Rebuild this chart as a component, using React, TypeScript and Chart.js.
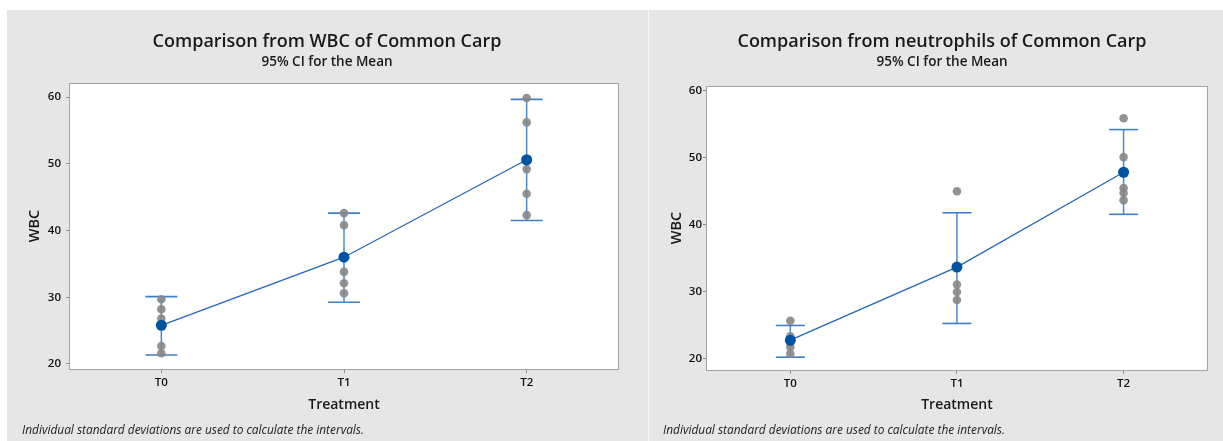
import React, { useEffect, useRef } from 'react';
import { Chart, registerables } from 'chart.js';

Chart.register(...registerables);

// ---------- data ----------
const categories = ['T0', 'T1', 'T2'];
const yTicks = [20, 30, 40, 50, 60];

// Left panel: WBC
const wbcTitle = 'Comparison from WBC of Common Carp';
const wbcMeans = [25.8, 36.0, 50.6];
const wbcLower = [21.35, 29.25, 41.5];
const wbcUpper = [30.1, 42.6, 59.65];
const wbcT0 = [29.7, 28.2, 26.8, 22.7, 21.6];
const wbcT1 = [42.6, 40.8, 33.8, 32.1, 30.6];
const wbcT2 = [59.85, 56.2, 49.2, 45.5, 42.3];

// Right panel: neutrophils
const neuTitle = 'Comparison from neutrophils of Common Carp';
const neuMeans = [22.8, 33.7, 47.84];
const neuLower = [20.27, 25.3, 41.57];
const neuUpper = [25.0, 41.8, 54.2];
const neuT0 = [25.7, 23.4, 22.4, 21.8, 20.8];
const neuT1 = [45.0, 33.6, 31.1, 30.0, 28.8];
const neuT2 = [55.9, 50.1, 45.5, 44.75, 43.66];

const subtitleText = '95% CI for the Mean';
const footnoteText = 'Individual standard deviations are used to calculate the intervals.';
const xTitle = 'Treatment';
const yTitle = 'WBC';

const FONT = "'Open Sans', 'Noto Sans', sans-serif";

type Panel = {
  title: string;
  means: number[];
  lower: number[];
  upper: number[];
  groups: number[][];
  width: number;
  height: number;
  plotLeft: number;
  plotRight: number;
  plotTop: number;
  plotBottom: number;
  yMin: number;
  yMax: number;
  titleX: number;
  capHalf: number;
  yTickPad: number;
  footX: number;
};

const textPlugin = {
  id: 'panelText',
  beforeDraw(chart: any) {
    const { ctx, chartArea } = chart;
    ctx.save();
    ctx.fillStyle = '#ffffff';
    ctx.fillRect(chartArea.left, chartArea.top, chartArea.right - chartArea.left, chartArea.bottom - chartArea.top);
    ctx.restore();
  },
  afterDraw(chart: any) {
    const { ctx, chartArea } = chart;
    const p: Panel = chart.options.plugins.panelText.panel;
    ctx.save();
    ctx.strokeStyle = '#a3a3a3';
    ctx.lineWidth = 1;
    ctx.strokeRect(
      Math.round(chartArea.left) - 0.5,
      Math.round(chartArea.top) + 0.5,
      Math.round(chartArea.right - chartArea.left) + 1,
      Math.round(chartArea.bottom - chartArea.top)
    );
    ctx.fillStyle = '#1a1a1a';
    ctx.textBaseline = 'middle';
    ctx.textAlign = 'center';
    ctx.font = `600 18px ${FONT}`;
    ctx.fillText(p.title, p.titleX, 31.5);
    ctx.font = `600 13.5px ${FONT}`;
    ctx.fillText(subtitleText, p.titleX, 52.5);
    ctx.textAlign = 'left';
    ctx.font = `italic 11.9px ${FONT}`;
    ctx.fillStyle = '#222';
    ctx.fillText(footnoteText, p.footX, 421);
    ctx.restore();
  },
};

function buildConfig(p: Panel): any {
  const pointData: any[] = [];
  p.groups.forEach((g, i) => g.forEach((y) => pointData.push({ x: categories[i], y })));

  const ciSets = categories.map((c, i) => ({
    label: 'CI ' + c,
    data: [
      { x: c, y: p.lower[i] },
      { x: c, y: p.upper[i] },
    ],
    showLine: true,
    borderColor: '#4d89cc',
    borderWidth: 1.5,
    pointStyle: 'line',
    pointRadius: p.capHalf,
    pointHoverRadius: p.capHalf,
    pointBorderColor: '#3f7fc6',
    pointBorderWidth: 1.6,
    pointBackgroundColor: '#3f7fc6',
  }));

  return {
    type: 'line',
    data: {
      labels: categories,
      datasets: [
        {
          label: 'Mean',
          data: p.means,
          borderColor: '#2467b6',
          borderWidth: 1.3,
          pointRadius: 5.5,
          pointBackgroundColor: '#0052a3',
          pointBorderColor: '#0052a3',
          pointBorderWidth: 0,
          tension: 0,
        },
        {
          label: 'Individual',
          data: pointData,
          showLine: false,
          pointRadius: 4.3,
          pointBackgroundColor: 'rgba(135,135,135,0.9)',
          pointBorderWidth: 0,
        },
        ...ciSets,
      ],
    },
    options: {
      animation: false,
      responsive: false,
      maintainAspectRatio: false,
      events: [],
      layout: {
        padding: { left: 0, top: p.plotTop, right: p.width - p.plotRight, bottom: 0 },
      },
      plugins: {
        legend: { display: false },
        tooltip: { enabled: false },
        title: { display: false },
        panelText: { panel: p },
      },
      scales: {
        x: {
          type: 'category',
          labels: categories,
          offset: true,
          grid: {
            display: true,
            drawOnChartArea: false,
            offset: false,
            tickLength: 4,
            color: '#8c8c8c',
            tickColor: '#8c8c8c',
          },
          border: { display: false },
          ticks: {
            padding: 3,
            color: '#111',
            font: { family: FONT, size: 11.5, weight: '600' },
          },
          title: {
            display: true,
            text: xTitle,
            color: '#1a1a1a',
            font: { family: FONT, size: 14, weight: '600', lineHeight: 1.2 },
            padding: { top: 0, bottom: 28 },
          },
          afterFit: (s: any) => {
            s.height = p.height - p.plotBottom;
          },
        },
        y: {
          type: 'linear',
          min: p.yMin,
          max: p.yMax,
          grid: {
            display: true,
            drawOnChartArea: false,
            tickLength: 4,
            color: '#8c8c8c',
            tickColor: '#8c8c8c',
          },
          border: { display: false },
          afterBuildTicks: (s: any) => {
            s.ticks = yTicks.map((v) => ({ value: v }));
          },
          ticks: {
            padding: p.yTickPad,
            color: '#111',
            font: { family: FONT, size: 11.5, weight: '600' },
          },
          title: {
            display: true,
            text: yTitle,
            color: '#1a1a1a',
            font: { family: FONT, size: 14.5, weight: '600', lineHeight: 1.2 },
            padding: { top: 19, bottom: 0 },
          },
          afterFit: (s: any) => {
            s.width = p.plotLeft;
          },
        },
      },
    },
    plugins: [textPlugin],
  };
}

function PanelChart({ panel, left }: { panel: Panel; left: number }) {
  const ref = useRef<HTMLCanvasElement | null>(null);
  useEffect(() => {
    if (!ref.current) return;
    const chart = new Chart(ref.current, buildConfig(panel));
    return () => chart.destroy();
  }, [panel]);
  return (
    <canvas
      ref={ref}
      width={panel.width}
      height={panel.height}
      style={{
        position: 'absolute',
        left,
        top: 10,
        width: panel.width,
        height: panel.height,
        background: '#e6e6e6',
      }}
    />
  );
}

const leftPanel: Panel = {
  title: wbcTitle,
  means: wbcMeans,
  lower: wbcLower,
  upper: wbcUpper,
  groups: [wbcT0, wbcT1, wbcT2],
  width: 641,
  height: 431,
  plotLeft: 63,
  plotRight: 611,
  plotTop: 73,
  plotBottom: 359,
  yMin: 19.25,
  yMax: 62.1,
  titleX: 320,
  capHalf: 16,
  yTickPad: 5,
  footX: 15,
};

const rightPanel: Panel = {
  title: neuTitle,
  means: neuMeans,
  lower: neuLower,
  upper: neuUpper,
  groups: [neuT0, neuT1, neuT2],
  width: 574,
  height: 431,
  plotLeft: 58,
  plotRight: 558,
  plotTop: 76,
  plotBottom: 360,
  yMin: 18.36,
  yMax: 60.7,
  titleX: 293,
  capHalf: 14.5,
  yTickPad: 1,
  footX: 14,
};

export default function App() {
  return (
    <div style={{ position: 'absolute', left: 0, top: 0, width: 1223, height: 441, background: '#ffffff', overflow: 'hidden' }}>
      <PanelChart panel={leftPanel} left={7} />
      <div style={{ position: 'absolute', left: 648, top: 10, width: 1, height: 431, background: '#f6f6f6' }} />
      <PanelChart panel={rightPanel} left={649} />
    </div>
  );
}
